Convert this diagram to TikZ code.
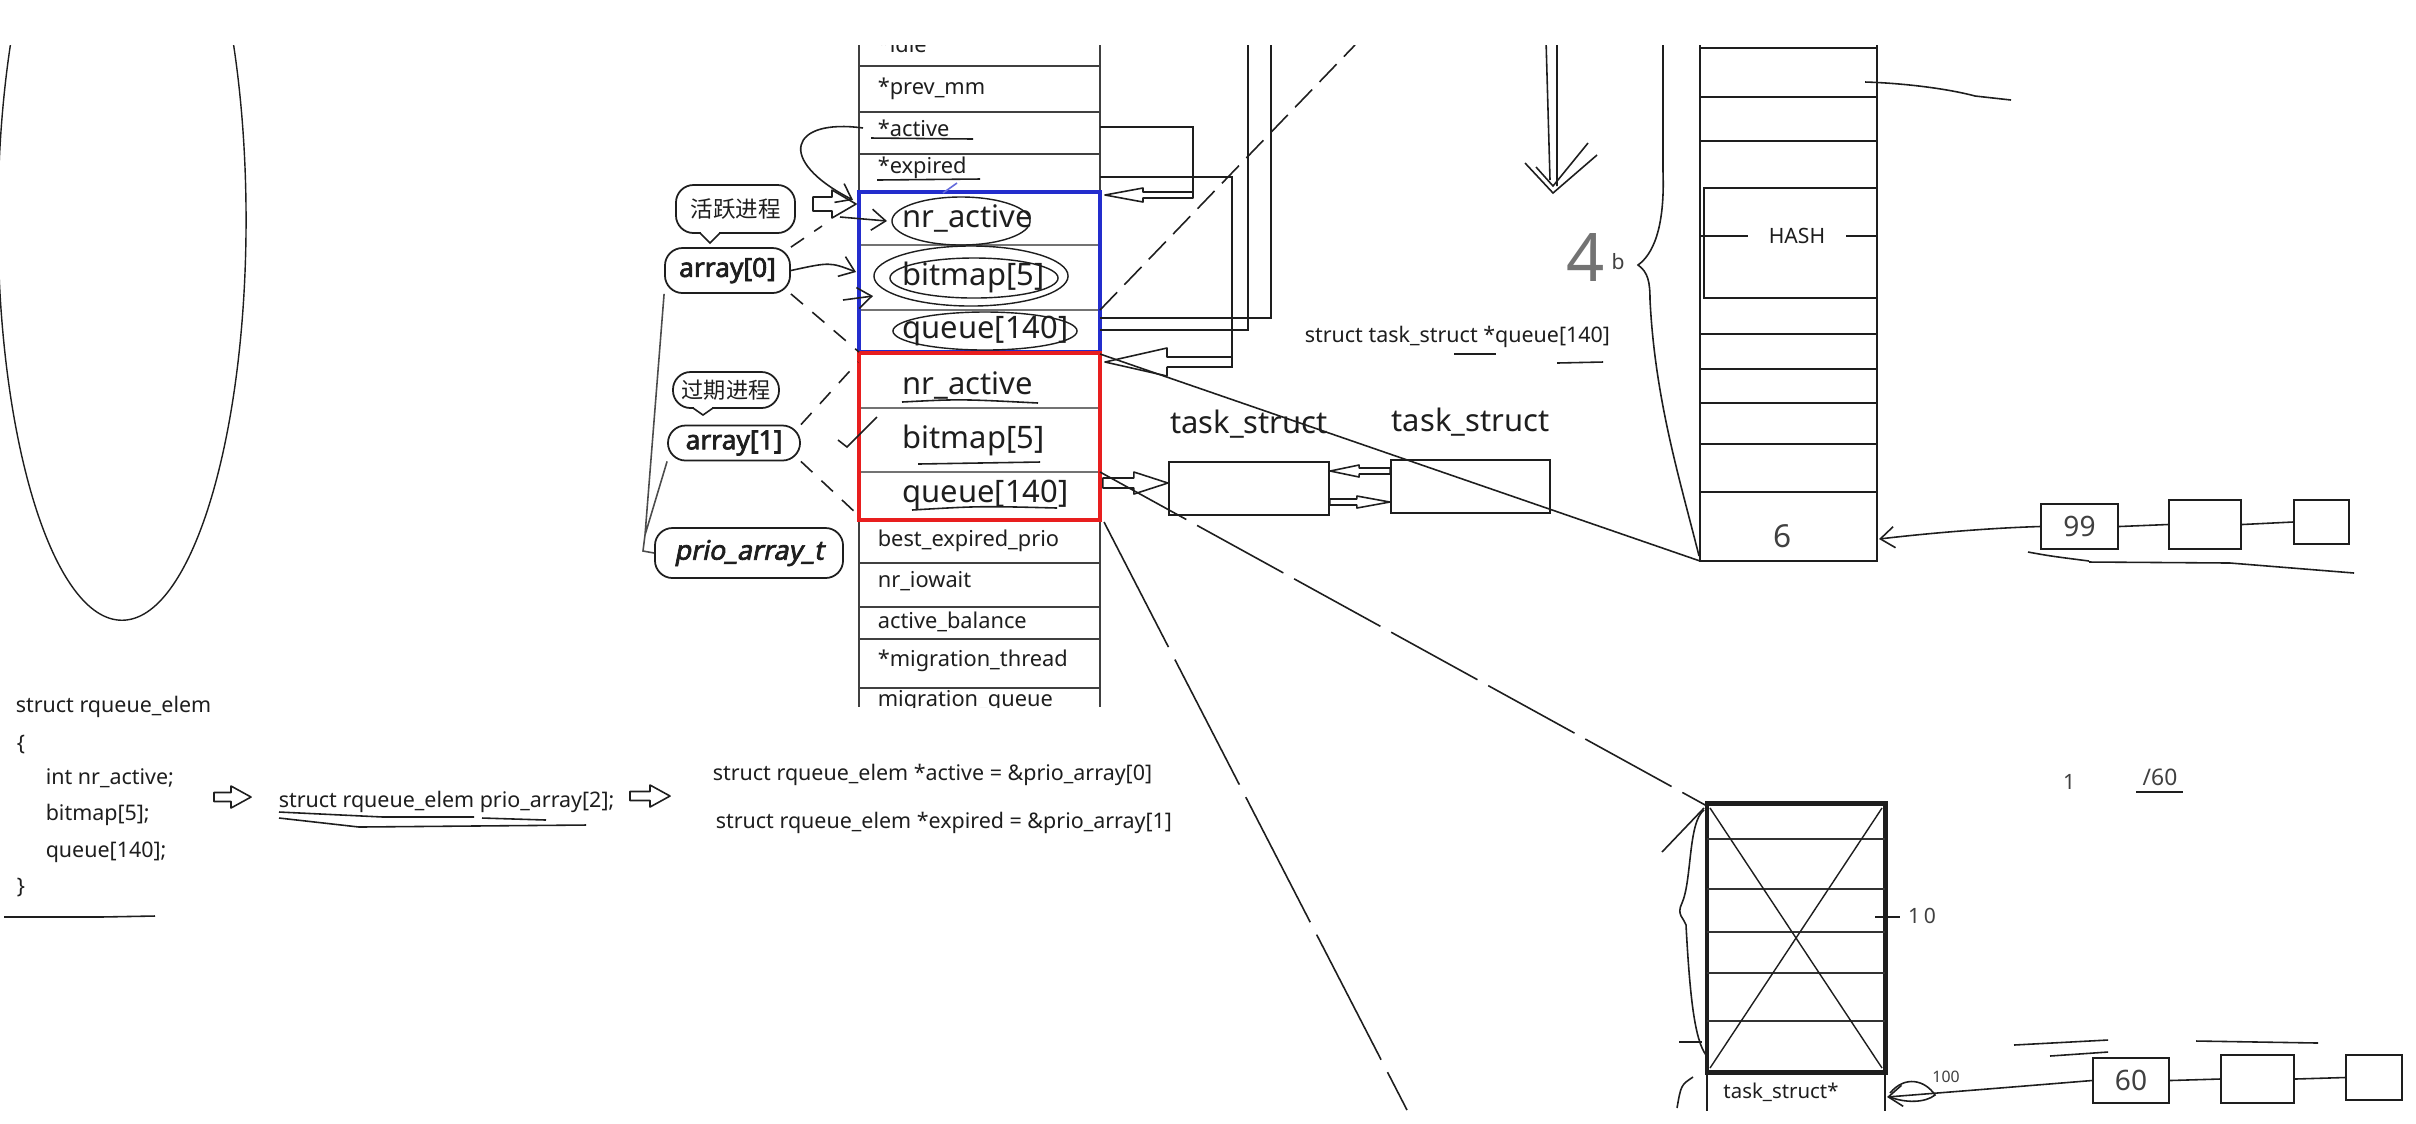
\documentclass[tikz,border=0pt]{standalone}
\usepackage{fontspec}
\setmainfont{Noto Sans}[AutoFakeBold=2.5]
\newfontfamily\cjk{Noto Sans CJK SC}
\newfontfamily\typefont{Noto Sans}[FakeBold=2.5, FakeSlant=0.2]
\usetikzlibrary{arrows.meta,positioning}
\definecolor{rqblue}{RGB}{35,45,205}
\definecolor{rqred}{RGB}{232,30,30}
\definecolor{ink}{RGB}{30,30,30}

\begin{document}
\begin{tikzpicture}[x=0.01cm, y=-0.01cm, line width=0.45pt, color=ink,
  cell/.style={anchor=west, inner sep=0pt, font=\fontsize{6.2}{7}\selectfont},
  big/.style={anchor=west, inner sep=0pt, font=\fontsize{8.8}{10}\selectfont},
  code/.style={anchor=west, inner sep=0pt, font=\fontsize{6.1}{7}\selectfont},
  hw/.style={inner sep=0pt, text=black!75},
  tag/.style={draw, rounded corners=5pt, line width=0.5pt, inner sep=0pt},
  box/.style={draw, line width=0.6pt, inner sep=0pt},
  hand/.style={-{Straight Barb[length=4pt,width=6pt]}},
  zoomdash/.style={dash pattern=on 4.5pt off 3.5pt},
  longdash/.style={dash pattern=on 28pt off 3.5pt},
  pics/hollow/.style n args={4}{code={
    \draw[line join=round] (0,0) -- (-#2,-#3) -- (-#2,-#4) -- (-#1,-#4)
      -- (-#1,#4) -- (-#2,#4) -- (-#2,#3) -- cycle;}}
]
\useasboundingbox (0,0) rectangle (2416,1123);
\fill[white] (0,0) rectangle (2416,1123);
\begin{scope}
\clip (0,45) rectangle (2416,1110);

% left oval
\draw[line width=0.4pt] (122,220) ellipse [x radius=1.24cm, y radius=4cm];

% runqueue table
\draw[line width=0.6pt, black!75] (859,40) -- (859,707) (1100,40) -- (1100,707);
\foreach \y in {66,112,154,563,607,639,688}
  \draw[line width=0.6pt, black!75] (859,\y) -- (1100,\y);
\foreach \y in {245,310,408,472}
  \draw[black!55] (859,\y) -- (1100,\y);
\draw[rqblue, line width=1.2pt] (859,192) rectangle (1100,352);
\draw[rqred, line width=1.2pt] (859,353) rectangle (1100,520);

\node[cell] (idle) at (877,44) {*idle};
\node[cell] (prevmm) at (877,89) {*prev\_mm};
\node[cell] (activep) at (877,128) {*active};
\node[cell] (expiredp) at (877,168) {*expired};
\node[cell] (bestexp) at (877,541) {best\_expired\_prio};
\node[cell] (iowait) at (877,581) {nr\_iowait};
\node[cell] (actbal) at (877,622) {active\_balance};
\node[cell] (migthr) at (877,661) {*migration\_thread};
\begin{scope}
  \clip (850,688) rectangle (1110,707);
  \node[cell] (migq) at (877,701) {migration\_queue};
\end{scope}

\node[big] (nra0) at (902,218) {nr\_active};
\node[big] (bmp0) at (902,277) {bitmap[5]};
\node[big] (que0) at (902,331) {queue[140]};
\node[big] (nra1) at (902,385) {nr\_active};
\node[big] (bmp1) at (902,440) {bitmap[5]};
\node[big] (que1) at (902,495) {queue[140]};

% hand marks on the table
\draw[line width=0.4pt] (961,221) ellipse [x radius=0.69cm, y radius=0.24cm];
\draw[line width=0.4pt] (971,276) ellipse [x radius=0.97cm, y radius=0.3cm];
\draw[line width=0.4pt] (974,278) ellipse [x radius=0.84cm, y radius=0.2cm];
\draw[line width=0.4pt] (985,331) ellipse [x radius=0.92cm, y radius=0.19cm];
\draw (871,138) -- (973,139);
\draw (877,180) -- (980,179);
\draw[rqblue!70] (943,193) -- (957,183);
\draw (902,402) .. controls (960,399) .. (1038,403);
\draw (918,464) -- (1040,462);
\draw (912,510) .. controls (980,506) .. (1057,508);

% tags on the left
\node[tag, minimum width=1.19cm, minimum height=0.48cm, font=\cjk\fontsize{6.4}{7}\selectfont] (huoyue) at (735.5,209) {活跃进程};
\fill[white] (701,231) rectangle (719,235);
\draw (700,233) -- (710,243) -- (720,233);
\node[tag, minimum width=1.25cm, minimum height=0.45cm, font=\bfseries\fontsize{7.5}{8}\selectfont] (arr0) at (727.5,270.5) {array[0]};
\node[tag, minimum width=1.06cm, minimum height=0.36cm, font=\cjk\fontsize{6.3}{7}\selectfont] (guoqi) at (726,390) {过期进程};
\fill[white] (694,406) rectangle (712,410);
\draw (693,408) -- (703,415) -- (713,408);
\node[tag, minimum width=1.32cm, minimum height=0.35cm, font=\bfseries\fontsize{7.5}{8}\selectfont] (arr1) at (734,443) {array[1]};
\node[tag, minimum width=1.88cm, minimum height=0.5cm, font=\typefont\fontsize{7.6}{8}\selectfont] (prioarr) at (749,553) {prio\_array\_t};

\coordinate (fork) at (645,535);
\draw[black!70] (arr0.south west) -- (fork) (arr1.south west) -- (fork);
\draw[black!70] (fork) -- (643,551) -- (prioarr.west);

\draw[zoomdash] (arr0.north east) -- (822,226);
\draw[zoomdash] (arr0.south east) -- (859,352);
\draw[zoomdash] (arr1.north east) -- (858,362);
\draw[zoomdash] (arr1.south east) -- (858,515);

\draw[hand] ([xshift=-0.14cm]activep.west) .. controls (790,118) and (775,160) .. (853,200);
\pic at (856,204) {hollow={43}{24}{14}{7}};
\draw[hand] (840,217) -- (887,221);
\draw[hand] (arr0.east) .. controls (830,262) .. (856,272);
\draw[hand] (843,300) -- (873,296);
\draw (838,440) -- (847,447) -- (877,417);

% pointer loops on the right of the table
\draw (1100,127) -- (1193,127) -- (1193,198);
\pic[rotate=180] at (1105,195) {hollow={88}{38}{7}{3}};
\draw (1100,177) -- (1232,177) -- (1232,368);
\pic[rotate=180] at (1105,362) {hollow={127}{62}{14}{5}};
\draw (1248,40) -- (1248,330) -- (1100,330);
\draw (1271,40) -- (1271,318) -- (1100,318);
\draw[dash pattern=on 7pt off 3pt] (1100,310) -- (1355,45);

% task_struct list
\node[box, minimum width=1.6cm, minimum height=0.53cm] (ts1) at (1249,488.5) {};
\node[box, minimum width=1.59cm, minimum height=0.53cm] (ts2) at (1470.5,486.5) {};
\node[big, anchor=center, above=0.22cm of ts1] (tsl1) {task\_struct};
\node[big, anchor=center, above=0.22cm of ts2] (tsl2) {task\_struct};
\pic at (ts1.west |- 0,483) {hollow={65}{34}{11}{5}};
\pic[rotate=180] at (ts1.east |- 0,471) {hollow={60}{29}{6}{3}};
\pic at (ts2.west |- 0,502) {hollow={60}{33}{6}{3}};

\node[code] (tsq) at (1304,337) {struct task\_struct *queue[140]};
\draw (1454,354) -- (1496,354);
\draw (1557,363) -- (1603,362);

% hash table
\draw (1546,40) -- (1550,180) (1557,40) -- (1557,186);
\draw (1525,163) -- (1553,193) -- (1597,155);
\draw (1536,167) -- (1553,186) -- (1588,143);
\node[hw, text=black!55, font=\fontsize{19}{19}\selectfont] (four) at (1586,257) {4};
\node[hw, font=\fontsize{6}{7}\selectfont] (bsmall) at (1618,262) {b};
\draw (1663,40) -- (1663,172) .. controls (1665,230) and (1652,255) .. (1638,265)
  .. controls (1648,272) and (1650,282) .. (1650,300)
  .. controls (1655,400) and (1680,480) .. (1699,556);

\draw (1700,40) -- (1700,561) -- (1877,561) -- (1877,40);
\foreach \y in {48,97,141,334,369,403,444,492}
  \draw (1700,\y) -- (1877,\y);
\draw (1704,188) rectangle (1877,298);
\node[inner sep=0.2cm, font=\fontsize{6}{7}\selectfont] (hash) at (1797,236) {HASH};
\draw (1700,236) -- (hash.west) (hash.east) -- (1877,236);
\node[hw, font=\fontsize{9}{9}\selectfont] (six) at (1783,536) {6};
\draw (1865,82) .. controls (1900,83) and (1945,88) .. (1975,96) -- (2011,100);

\draw (1100,354) -- (1700,561);

\node[box, minimum width=0.77cm, minimum height=0.45cm, font=\fontsize{8}{8}\selectfont, text=black!75] (hl1) at (2079.5,526.5) {99};
\node[box, minimum width=0.72cm, minimum height=0.49cm] (hl2) at (2205,524.5) {};
\node[box, minimum width=0.55cm, minimum height=0.44cm] (hl3) at (2321.5,522) {};
\draw (hl1.east) -- (hl2.west);
\draw (hl2.east) -- (hl3.west);
\draw[hand] (hl1.west) .. controls (1990,528) and (1930,533) .. (1879,539);
\draw (2028,552) .. controls (2050,556) .. (2089,561);
\draw (2089,562) -- (2230,563) -- (2354,573);

% task_struct* array
\draw[longdash] (1100,472) -- (1707,806);
\draw[dash pattern=on 40pt off 4pt] (1104,522) -- (1407,1110);
\node[draw, line width=1.4pt, minimum width=1.78cm, minimum height=2.68cm, inner sep=0pt] (tsptr) at (1796,938) {};
\foreach \y in {839,889,932,973,1021}
  \draw[black!80] (1707,\y) -- (1885,\y);
\draw[line width=0.4pt] (1710,808) -- (1882,1068) (1882,808) -- (1710,1068);
\draw (1707,1072) -- (1707,1112) (1885,1072) -- (1885,1112);
\node[font=\fontsize{5.8}{7}\selectfont] (tsstar) at (1781,1092) {task\_struct*};
\draw (1875,917) -- (1900,917);
\node[hw, font=\fontsize{6}{7}\selectfont] (ten) at (1922,916) {1\,0};
\draw (1662,852) -- (1704,808);
\draw (1704,810) .. controls (1688,822) and (1692,880) .. (1682,903)
  .. controls (1676,915) and (1684,918) .. (1686,925)
  .. controls (1690,1000) and (1695,1040) .. (1706,1055);
\draw (1679,1042) -- (1702,1042);
\draw (1693,1077) .. controls (1681,1085) .. (1677,1108);

\node[box, minimum width=0.76cm, minimum height=0.45cm, font=\fontsize{8}{8}\selectfont, text=black!75] (bl1) at (2131,1080.5) {60};
\node[box, minimum width=0.73cm, minimum height=0.48cm] (bl2) at (2257.5,1079) {};
\node[box, minimum width=0.56cm, minimum height=0.45cm] (bl3) at (2374,1077.5) {};
\draw (bl1.east) -- (bl2.west);
\draw (bl2.east) -- (bl3.west);
\draw[hand] (bl1.west) .. controls (2000,1088) .. (1887,1097);
\draw (1890,1093) .. controls (1905,1075) and (1925,1080) .. (1935,1095)
  .. controls (1925,1103) and (1905,1103) .. (1890,1097);
\node[hw, font=\fontsize{4.5}{5}\selectfont] (hundred) at (1946,1077) {100};
\draw (2014,1045) -- (2108,1040);
\draw (2050,1056) -- (2108,1052);
\draw (2196,1041) -- (2318,1043);
\node[hw, font=\fontsize{6}{7}\selectfont] (one) at (2069,782) {1};
\node[hw, font=\fontsize{6.5}{7}\selectfont] (sixty) at (2160,777) {/60};
\draw (2136,792) -- (2183,792);

% struct code
\node[code] (c1) at (15,707) {struct rqueue\_elem};
\node[code] (c2) at (16,745) {\{};
\node[code] (c3) at (45,778) {int nr\_active;};
\node[code] (c4) at (45,815) {bitmap[5];};
\node[code] (c5) at (45,852) {queue[140];};
\node[code] (c6) at (16,888) {\}};
\draw (4,917) -- (100,917) -- (155,916);
\pic at (251,797) {hollow={37}{20}{11}{4.5}};
\node[code] (prio2) at (278,802) {struct rqueue\_elem prio\_array[2];};
\draw (279,812) -- (383,817) -- (474,817);
\draw (279,818) -- (359,827) -- (586,825);
\draw (482,818) -- (546,820);
\pic at (670,796) {hollow={40}{20}{11}{4.5}};
\node[code] (actp) at (712,775) {struct rqueue\_elem *active = \&prio\_array[0]};
\node[code] (expp) at (715,823) {struct rqueue\_elem *expired = \&prio\_array[1]};
\end{scope}
\end{tikzpicture}
\end{document}
